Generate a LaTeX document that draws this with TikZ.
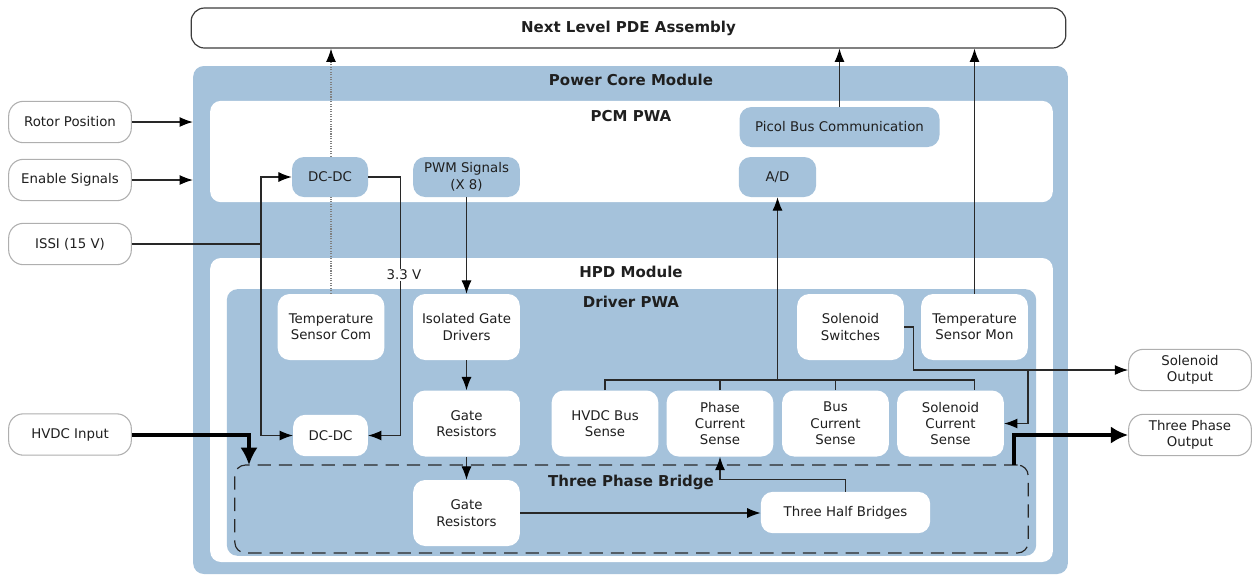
\documentclass[tikz,border=0pt]{standalone}
\usepackage{fontspec}
\setmainfont{DejaVu Sans}
\usetikzlibrary{arrows.meta,positioning}

\definecolor{pcmblue}{RGB}{165,194,219}
\definecolor{wirecol}{RGB}{40,40,40}
\definecolor{rim}{RGB}{175,175,175}

\tikzset{
  panel/.style={rounded corners=8pt, inner sep=0pt},
  title/.style={font=\fontsize{11.25}{13}\selectfont\bfseries},
  blk/.style={rounded corners=9pt, align=center, inner sep=0pt, font=\fontsize{10}{12.3}\selectfont},
  bluebox/.style={blk, fill=pcmblue},
  whitebox/.style={blk, fill=white},
  extbox/.style={blk, fill=white, draw=rim, line width=0.8pt, rounded corners=11pt, minimum width=92pt, minimum height=31pt},
  sense/.style={whitebox, minimum width=80pt, minimum height=49.5pt},
  wire/.style={draw=wirecol, line width=0.85pt},
  arr/.style={wire, -{Latex[length=10pt,width=7.5pt,black]}},
  power/.style={draw=black, line width=3pt, -{Latex[length=13pt,width=13pt]}},
}

\begin{document}
\begin{tikzpicture}[x=0.75pt,y=-0.75pt,text=black!88]
\useasboundingbox (0,0) rectangle (1252,576);

% nested modules
\node[panel, fill=pcmblue, minimum width=656pt, minimum height=381pt] (core) at (630.5,320) {};
\node[panel, fill=white, minimum width=632pt, minimum height=76pt] (pcm) at (631.5,151.5) {};
\node[panel, fill=white, minimum width=632pt, minimum height=228pt] (hpd) at (631.5,410) {};
\node[panel, fill=pcmblue, minimum width=607pt, minimum height=200pt] (drv) at (631.5,422.5) {};
\node[panel, draw=wirecol, line width=0.9pt, dash pattern=on 10pt off 6pt, minimum width=595pt, minimum height=66pt] (tpb) at (631.5,509) {};

\node[title] (coreT) at (631,80) {Power Core Module};
\node[title] (pcmT) at (631,116) {PCM PWA};
\node[title] (hpdT) at (631,272) {HPD Module};
\node[title] (drvT) at (631,302) {Driver PWA};
\node[title] (tpbT) at (631,482) {Three Phase Bridge};

\node[panel, title, draw=wirecol!90, line width=0.9pt, fill=white, rounded corners=10pt, minimum width=656pt, minimum height=30pt] (next) at (628.5,28) {Next Level PDE Assembly};

% outside connections
\node[extbox] (rotor) at (70,122) {Rotor Position};
\node[extbox] (enable) at (70,180) {Enable Signals};
\node[extbox] (issi) at (70,244) {ISSI (15 V)};
\node[extbox] (hvdc) at (70,434.5) {HVDC Input};
\node[extbox] (solOut) at (1190,370) {Solenoid\\Output};
\node[extbox] (tpOut) at (1190,435) {Three Phase\\Output};

% PCM PWA
\node[bluebox, minimum width=57pt, minimum height=30pt] (dcTop) at (330,177) {DC-DC};
\node[bluebox, minimum width=80pt, minimum height=30pt] (pwm) at (466.5,177) {PWM Signals\\(X 8)};
\node[bluebox, minimum width=150pt, minimum height=30pt] (picol) at (839.5,127) {Picol Bus Communication};
\node[bluebox, minimum width=58pt, minimum height=30pt] (ad) at (777.5,177) {A/D};

% Driver PWA
\node[sense] (tsCom) at (331,327) {Temperature\\Sensor Com};
\node[sense] (igd) at (466.5,327) {Isolated Gate\\Drivers};
\node[sense] (solSw) at (850.5,327) {Solenoid\\Switches};
\node[sense] (tsMon) at (974.5,327) {Temperature\\Sensor Mon};
\node[sense] (gr1) at (466.5,423.5) {Gate\\Resistors};
\node[sense] (hvs) at (605,423.5) {HVDC Bus\\Sense};
\node[sense] (pcs) at (720,423.5) {Phase\\Current\\Sense};
\node[sense] (bcs) at (835.5,423.5) {Bus\\Current\\Sense};
\node[sense] (scs) at (950.5,423.5) {Solenoid\\Current\\Sense};
\node[whitebox, minimum width=56pt, minimum height=31pt] (dcLow) at (330.5,435.5) {DC-DC};
\node[sense] (gr2) at (466.5,513) {Gate\\Resistors};
\node[whitebox, minimum width=127pt, minimum height=31pt] (thb) at (845.5,512.5) {Three Half Bridges};

% junction points
\coordinate (feed) at (261,244);
\coordinate (bus) at (777.5,380);
\coordinate (solTap) at (1028,370);
\coordinate (hvIn) at (249,465);
\coordinate (hvOut) at (1014,465);

\draw[arr] (rotor) -- (rotor -| core.west);
\draw[arr] (enable) -- (enable -| core.west);
\draw[wire] (issi) -- (feed);
\draw[arr] (feed) |- (dcTop);
\draw[arr] (feed) |- (dcLow);
\draw[arr] (dcTop.east) -- ++(32,0) |- (dcLow);
\node[fill=white, inner sep=1pt, font=\fontsize{10}{12}\selectfont] (v33) at (404,275) {3.3 V};

\draw[wire, draw=gray, densely dotted] (tsCom.north) -- (tsCom.north |- dcTop.south);
\draw[arr, draw=gray, densely dotted] (tsCom.north |- dcTop.north) -- (tsCom.north |- next.south);

\draw[arr] (pwm) -- (igd);
\draw[arr] (igd) -- (gr1);
\draw[arr] (gr1) -- (gr2);
\draw[arr] (gr2) -- (gr2 -| thb.west);
\draw[arr] (thb.north) -- ++(0,-12) -| (pcs.south);

\draw[wire] (hvs.north) |- (bus) -| (tsMon.south |- scs.north);
\draw[wire] (pcs.north) -- (pcs.north |- bus);
\draw[wire] (bcs.north) -- (bcs.north |- bus);
\draw[arr] (bus) -- (ad);

\draw[arr] (picol) -- (picol |- next.south);
\draw[arr] (tsMon) -- (tsMon |- next.south);
\draw[arr] (solSw.east) -- ++(9,0) |- (solOut);
\draw[arr] (solTap) |- (scs);

\draw[power] (hvdc) -| (hvIn);
\draw[power] (hvOut) |- (tpOut);
\end{tikzpicture}
\end{document}
